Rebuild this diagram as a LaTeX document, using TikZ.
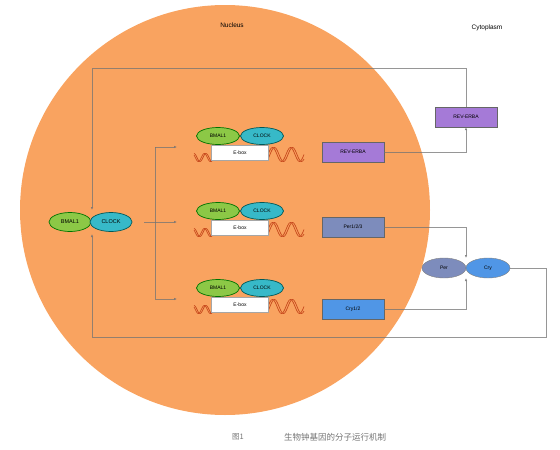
\documentclass[tikz,border=0pt]{standalone}
\usepackage{fontspec}
\setmainfont{Liberation Sans}
\newfontfamily\cjk{Noto Sans CJK SC}
\usetikzlibrary{shapes.geometric,arrows.meta}
\definecolor{nucorange}{RGB}{249,163,96}
\definecolor{bmalgreen}{RGB}{140,200,70}
\definecolor{clockcyan}{RGB}{55,185,200}
\definecolor{revpurple}{RGB}{165,122,215}
\definecolor{perslate}{RGB}{125,140,188}
\definecolor{cryblue}{RGB}{80,150,230}
\definecolor{dnared}{RGB}{200,75,30}
\begin{document}
\begin{tikzpicture}[x=1pt, y=-1pt, font=\fontsize{5}{6}\selectfont,
		>={Latex[length=3pt,width=2.6pt]},
		bmal/.style={ellipse, draw=green!45!black, line width=.7pt, fill=bmalgreen, minimum width=43pt, minimum height=17pt, inner sep=0pt},
		clock/.style={ellipse, draw=teal!70!black, line width=.7pt, fill=clockcyan, minimum width=43pt, minimum height=17pt, inner sep=0pt},
		ebox/.style={rectangle, draw=gray!70, fill=white, minimum width=57pt, minimum height=15pt, inner sep=0pt},
		gene/.style={rectangle, draw=black!60, minimum width=62pt, minimum height=20pt, inner sep=0pt},
		link/.style={draw=black!55, draw opacity=.75, line width=.8pt},
		dna/.style={draw=dnared, line width=.7pt}]
	\useasboundingbox (0,0) rectangle (560,450);
	% nucleus
	\fill[nucorange] (225,210) circle (205pt);
	\node (nuc) at (232,25) {\fontsize{6.5}{7}\selectfont Nucleus};
	\node (cyto) at (487,28) {\fontsize{6.5}{7}\selectfont Cytoplasm};
	% free complex
	\node[bmal, minimum width=42pt, minimum height=19pt] (cxb) at (70,222) {\fontsize{5.5}{6}\selectfont BMAL1};
	\node[clock, minimum width=42pt, minimum height=19pt] (cxc) at (111,222) {\fontsize{5.5}{6}\selectfont CLOCK};
	\coordinate (cxn) at (92,210);
	\coordinate (cxs) at (92,234);
	\coordinate (hub) at (155,222);
	% promoter rows
	\foreach \r/\y in {1/153,2/228,3/305} {
		\draw[dna] plot[domain=194:212, samples=40, variable=\t] (\t, {\y+4.5-4*sin(30*(\t-194)+90)});
		\draw[dna] plot[domain=194:212, samples=40, variable=\t] (\t, {\y+4.5-4*sin(30*(\t-194)+140)});
		\draw[dna] plot[domain=267:304, samples=60, variable=\t] (\t, {\y+1.5-7*sin(20*(\t-267)-60)});
		\draw[dna] plot[domain=267:304, samples=60, variable=\t] (\t, {\y+1.5-7*sin(20*(\t-267)-20)});
		\node[ebox] (e\r) at (240,\y) {E-box};
		\node[bmal] (b\r) at (218,\y-17) {BMAL1};
		\node[clock] (c\r) at (262,\y-17) {CLOCK};
		\coordinate (t\r) at (177,\y-6);
	}
	% target genes
	\node[gene, fill=revpurple] (rev) at (353,152) {REV-ERBA};
	\node[gene, fill=perslate] (per) at (353,227) {Per1/2/3};
	\node[gene, fill=cryblue] (cry) at (353,309) {Cry1/2};
	\node[gene, fill=revpurple] (revc) at (466,117) {REV-ERBA};
	\node[ellipse, draw=black!50, fill=perslate, minimum width=44pt, minimum height=20pt, inner sep=0pt] (pp) at (444,268) {Per};
	\node[ellipse, draw=black!50, fill=cryblue, minimum width=44pt, minimum height=20pt, inner sep=0pt] (pc) at (488,268) {Cry};
	\coordinate (pcn) at (466,258);
	\coordinate (pcs) at (466,278);
	\coordinate (fbtop) at (92,68);
	\coordinate (fbbot) at (546,337);
	% activation
	\draw[link,->] ([xshift=12pt]cxc.east) -- (t2);
	\draw[link] (t1 -| hub) -- (t3 -| hub);
	\draw[link,->] (t1 -| hub) -- (t1);
	\draw[link,->] (t3 -| hub) -- (t3);
	\draw[link,->] (rev.east) -| (revc.south);
	\draw[link,->] (per.east) -| (pcn);
	\draw[link,->] (cry.east) -| (pcs);
	% feedback
	\draw[link,->] (revc.north) |- (fbtop) -- (cxn);
	\draw[link,->] (pc.east) -| (fbbot) -| (cxs);
	% caption
	\node[text=black!55] (fig) at (238,437) {\cjk\fontsize{7.5}{8}\selectfont 图1};
	\node[text=black!55] (cap) at (335,437) {\cjk\fontsize{8.5}{9}\selectfont 生物钟基因的分子运行机制};
\end{tikzpicture}
\end{document}
